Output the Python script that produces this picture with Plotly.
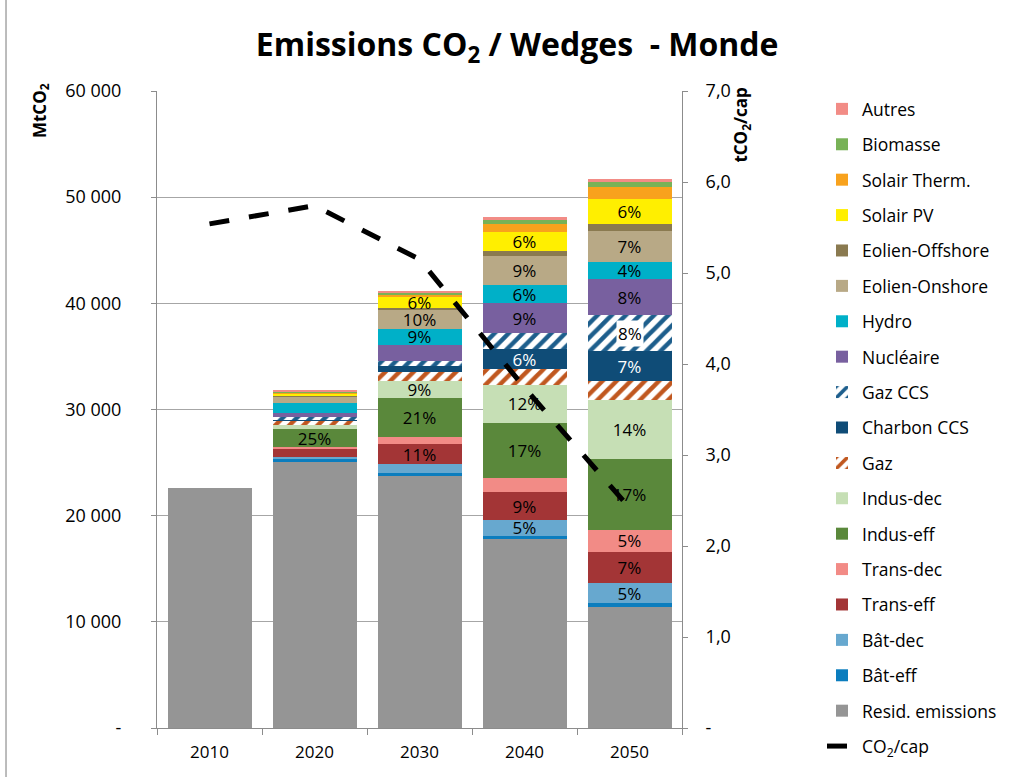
import plotly.graph_objects as go

years = ["2010", "2020", "2030", "2040", "2050"]

# Emissions (MtCO2) by wedge, bottom of the stack first
resid_emissions = [22600, 25140, 23730, 17800, 11360]
bat_eff = [0, 160, 310, 310, 380]
bat_dec = [0, 190, 820, 1480, 1940]
trans_eff = [0, 780, 1880, 2600, 2920]
trans_dec = [0, 220, 690, 1360, 2040]
indus_eff = [0, 1640, 3650, 5200, 6690]
indus_dec = [0, 400, 1570, 3550, 5560]
gaz = [0, 470, 900, 1480, 1790]
charbon_ccs = [0, 80, 540, 1880, 2820]
gaz_ccs = [0, 180, 470, 1560, 3390]
nucleaire = [0, 430, 1550, 2770, 3380]
hydro = [0, 940, 1510, 1750, 1660]
eolien_onshore = [0, 565, 1720, 2760, 2890]
eolien_offshore = [0, 30, 220, 410, 690]
solair_pv = [0, 320, 1040, 1790, 2300]
solair_therm = [0, 30, 220, 780, 1160]
biomasse = [0, 120, 190, 400, 470]
autres = [0, 60, 160, 230, 230]

# Emissions per capita (tCO2/cap)
co2_cap = [5.54, 5.74, 5.15, 3.74, 2.42]

left_tick_vals = [0, 10000, 20000, 30000, 40000, 50000, 60000]
left_tick_text = ["-", "10 000", "20 000", "30 000", "40 000", "50 000", "60 000"]
right_tick_vals = [0, 1, 2, 3, 4, 5, 6, 7]
right_tick_text = ["-", "1,0", "2,0", "3,0", "4,0", "5,0", "6,0", "7,0"]

# (name, values, colour, pattern colour or None, labelled years, label colour, legend)
wedges = [
    ("Resid. emissions", resid_emissions, "#959595", None, [], "black", "legend2"),
    ("Bât-eff", bat_eff, "#0B7DBE", None, [], "black", "legend2"),
    ("Bât-dec", bat_dec, "#67A8CF", None, ["2040", "2050"], "black", "legend2"),
    ("Trans-eff", trans_eff, "#A33536", None, ["2030", "2040", "2050"], "black", "legend2"),
    ("Trans-dec", trans_dec, "#F28B86", None, ["2050"], "black", "legend2"),
    ("Indus-eff", indus_eff, "#5A883B", None, ["2020", "2030", "2040", "2050"], "black", "legend2"),
    ("Indus-dec", indus_dec, "#C6DFB5", None, ["2030", "2040", "2050"], "black", "legend2"),
    ("Gaz", gaz, "#FFFFFF", "#C0571F", [], "black", "legend2"),
    ("Charbon CCS", charbon_ccs, "#0F4C77", None, ["2040", "2050"], "white", "legend2"),
    ("Gaz CCS", gaz_ccs, "#FFFFFF", "#1D5E8C", ["2050"], "black", "legend"),
    ("Nucléaire", nucleaire, "#78609F", None, ["2040", "2050"], "black", "legend"),
    ("Hydro", hydro, "#00B0C8", None, ["2030", "2040", "2050"], "black", "legend"),
    ("Eolien-Onshore", eolien_onshore, "#B8A986", None, ["2030", "2040", "2050"], "black", "legend"),
    ("Eolien-Offshore", eolien_offshore, "#8A7A50", None, [], "black", "legend"),
    ("Solair PV", solair_pv, "#FFEF00", None, ["2030", "2040", "2050"], "black", "legend"),
    ("Solair Therm.", solair_therm, "#F8A21D", None, [], "black", "legend"),
    ("Biomasse", biomasse, "#78B257", None, [], "black", "legend"),
    ("Autres", autres, "#F28C86", None, [], "black", "legend"),
]

# Abatement total per year = everything above the residual emissions
abatement = [sum(w[1][i] for w in wedges[1:]) for i in range(len(years))]

FONT = "Open Sans"
LABEL_SIZE = 17
n_items = len(wedges) + 1
fig = go.Figure()

# Legend lists the stack top-down, then the per-capita line last
fig.add_trace(go.Scatter(
    x=years, y=co2_cap, name="CO<sub>2</sub>/cap", mode="lines",
    line=dict(color="black", width=5, dash="20px,20px"),
    yaxis="y2", legendgroup="co2cap", legend="legend2", legendrank=n_items,
))

annotations = []
for k, (name, vals, color, pat, labelled, tcolor, leg) in enumerate(wedges):
    texts = []
    for i, y in enumerate(years):
        if y in labelled and abatement[i] > 0:
            texts.append(f"{round(vals[i] / abatement[i] * 100)}%")
        else:
            texts.append("")
    marker = dict(color=color, line=dict(width=0))
    if pat:
        marker["pattern"] = dict(shape="/", fgcolor=pat, bgcolor="white",
                                 size=10, solidity=0.45, fillmode="replace")
    boxed = name == "Gaz CCS"
    fig.add_trace(go.Bar(
        x=years, y=vals, name=name, marker=marker,
        text=None if boxed else texts,
        textposition="inside", insidetextanchor="middle",
        textfont=dict(color=tcolor, size=LABEL_SIZE, family=FONT),
        legendgroup=name, legend=leg, legendrank=len(wedges) - k,
        hoverinfo="name+y",
    ))

# Labels over the hatched Gaz CCS wedge sit on a white box
idx = [w[0] for w in wedges].index("Gaz CCS")
for i, y in enumerate(years):
    if y in wedges[idx][4]:
        base = sum(w[1][i] for w in wedges[:idx])
        mid = base + wedges[idx][1][i] / 2
        annotations.append(dict(
            x=i, y=mid, xref="x", yref="y",
            text=f"{round(wedges[idx][1][i] / abatement[i] * 100)}%",
            showarrow=False, bgcolor="white", borderpad=1,
            font=dict(size=LABEL_SIZE, color="black", family=FONT),
        ))

annotations += [
    dict(text="<b>MtCO<sub>2</sub></b>", textangle=-90, xref="paper", yref="paper",
         x=-0.223, y=0.970, xanchor="center", yanchor="middle", showarrow=False,
         font=dict(size=17, family=FONT, color="black")),
    dict(text="<b>tCO<sub>2</sub>/cap</b>", textangle=-90, xref="paper", yref="paper",
         x=1.114, y=0.947, xanchor="center", yanchor="middle", showarrow=False,
         font=dict(size=17, family=FONT, color="black")),
]

ITEM_STEP = 35.4
legend_style = dict(xref="container", yref="container", xanchor="left", yanchor="top",
                    traceorder="grouped", tracegroupgap=ITEM_STEP - (17.5 * 1.3 + 3),
                    font=dict(size=17.5, family=FONT, color="black"),
                    bgcolor="rgba(0,0,0,0)")

fig.update_layout(
    width=1024, height=777,
    barmode="stack", bargap=0.2,
    plot_bgcolor="white", paper_bgcolor="white",
    margin=dict(l=157, r=342, t=91, b=49, autoexpand=False),
    font=dict(family=FONT, size=16, color="black"),
    title=dict(text="<b>Emissions CO<sub>2</sub> / Wedges \u00a0- Monde</b>",
               x=0.505, xanchor="center", y=0.942, yanchor="middle", yref="container",
               font=dict(size=32, family=FONT, color="black")),
    xaxis=dict(type="category", range=[-0.5, 4.5], showline=True, linecolor="#8c8c8c",
               linewidth=1, ticks="outside", tickson="boundaries", ticklen=6,
               tickcolor="#8c8c8c", tickangle=0, ticklabelstandoff=9,
               tickfont=dict(size=17, family=FONT, color="black"), showgrid=False),
    yaxis=dict(range=[0, 60000], tickvals=left_tick_vals, ticktext=left_tick_text,
               showline=True, linecolor="#8c8c8c", linewidth=1,
               ticks="outside", ticklen=5, tickcolor="#8c8c8c", ticklabelstandoff=26,
               showgrid=True, gridcolor="#a6a6a6", gridwidth=1, zeroline=False,
               tickfont=dict(size=18, family=FONT, color="black")),
    yaxis2=dict(range=[0, 7], tickvals=right_tick_vals, ticktext=right_tick_text,
                overlaying="y", side="right", showline=True, linecolor="#8c8c8c",
                linewidth=1, ticks="outside", ticklen=5, tickcolor="#8c8c8c",
                ticklabelstandoff=14, showgrid=False, zeroline=False,
                tickfont=dict(size=18, family=FONT, color="black")),
    legend=dict(x=822 / 1024, y=1 - 91 / 777, **legend_style),
    legend2=dict(x=822 / 1024, y=1 - (91 + 9 * ITEM_STEP) / 777, **legend_style),
    uniformtext=dict(minsize=LABEL_SIZE, mode="show"),
    annotations=annotations,
    shapes=[dict(type="line", xref="paper", yref="paper",
                 x0=-0.2876, x1=-0.2876, y0=-0.1, y1=1.2,
                 line=dict(color="#a6a6a6", width=1.5))],
)

fig.write_html("out.html")
